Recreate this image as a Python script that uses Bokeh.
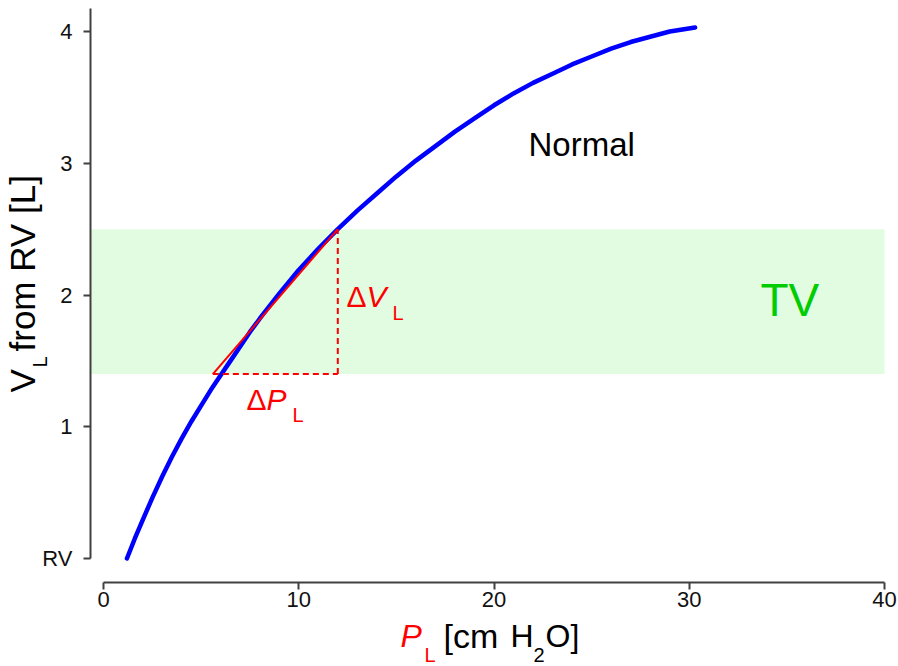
import math
from bokeh.plotting import figure
from bokeh.models import Range1d, FixedTicker, BoxAnnotation, Label
from bokeh.embed import file_html
from bokeh.resources import INLINE

# ---- data ----
pressure = [1.2, 1.6, 2.0, 2.5, 3.0, 3.5, 4.0, 4.5, 5.0, 5.5, 6.0, 6.5, 7.0, 7.5,
            8, 9, 10, 11, 12, 13, 14, 15, 16, 17, 18, 19, 20, 21, 22, 23, 24,
            25, 26, 27, 28, 29, 30.3]
volume = [0.00, 0.15, 0.29, 0.46, 0.62, 0.77, 0.91, 1.04, 1.16, 1.28, 1.39, 1.50,
          1.61, 1.72, 1.82, 2.01, 2.19, 2.35, 2.50, 2.64, 2.77, 2.90, 3.02, 3.13,
          3.24, 3.34, 3.44, 3.53, 3.61, 3.68, 3.75, 3.81, 3.87, 3.92, 3.96, 4.00,
          4.03]

tv_band = [1.4, 2.5]            # tidal-volume band (L above RV)
tangent_p = [5.6, 12.0]         # pressure at the two ends of the tangent
tangent_v = [1.4, 2.5]          # volume at the two ends of the tangent

x_ticks = [0, 10, 20, 30, 40]
y_ticks = [0, 1, 2, 3, 4]
y_tick_labels = {0: "RV", 1: "1", 2: "2", 3: "3", 4: "4"}

FONT = "Liberation Sans"

# pixel scale of the reference
X0, XS = 103, 19.525   # px of P=0, px per cm H2O
Y0, YS = 558, 131.75   # px of V=0 (RV), px per litre
W, H = 898, 666

p = figure(width=W, height=H, output_backend="svg", toolbar_location=None,
           x_range=Range1d(-X0 / XS, (W - X0) / XS),
           y_range=Range1d(-(H - Y0) / YS, Y0 / YS),
           min_border_left=0, min_border_right=0, min_border_top=0,
           min_border_bottom=0)
p.outline_line_color = None
p.xgrid.visible = False
p.ygrid.visible = False
p.background_fill_color = "white"
p.border_fill_color = "white"

for ax in (p.xaxis[0], p.yaxis[0]):
    ax.axis_line_width = 2
    ax.axis_line_color = "#404040"
    ax.major_tick_line_color = "#404040"
    ax.major_tick_line_width = 2
    ax.major_tick_out = 7
    ax.major_tick_in = 0
    ax.minor_tick_line_color = None
    ax.major_label_text_font = FONT
    ax.major_label_text_font_size = "22px"
    ax.major_label_text_color = "#111111"

x_axis_at = -(582 - Y0) / YS
y_axis_at = (90 - X0) / XS
p.xaxis[0].fixed_location = x_axis_at
p.xaxis[0].bounds = (0, 40)
p.xaxis[0].ticker = FixedTicker(ticks=x_ticks)
p.xaxis[0].major_label_standoff = 2
p.yaxis[0].fixed_location = y_axis_at
p.yaxis[0].bounds = (0, (Y0 - 8) / YS)
p.yaxis[0].ticker = FixedTicker(ticks=y_ticks)
p.yaxis[0].major_label_overrides = y_tick_labels
p.yaxis[0].major_label_standoff = 11

# tidal volume band
p.add_layout(BoxAnnotation(bottom=tv_band[0], top=tv_band[1], left=y_axis_at,
                           right=40, fill_color="#e2fce2", fill_alpha=1.0,
                           line_alpha=0, level="underlay"))

# pressure-volume curve
p.line(pressure, volume, line_color="#0000ff", line_width=4.5,
       line_cap="round", line_join="round")

# tangent triangle
p.line(tangent_p, tangent_v, line_color="#ff0000", line_width=2)
p.line([tangent_p[0], tangent_p[1]], [tangent_v[0], tangent_v[0]],
       line_color="#ff0000", line_width=2, line_dash="6 4")
p.line([tangent_p[1], tangent_p[1]], [tangent_v[0], tangent_v[1]],
       line_color="#ff0000", line_width=2, line_dash="6 4")

BASE_SHIFT = 0.38  # measured baseline offset of rendered labels, in em


def lab(px, py, text, size, color="black", style="normal", rotated=False):
    if rotated:
        px = px - BASE_SHIFT * size
    else:
        py = py - BASE_SHIFT * size
    p.add_layout(Label(x=(px - X0) / XS, y=(Y0 - py) / YS, text=text,
                       text_font=FONT, text_font_size=f"{size}px",
                       text_color=color, text_font_style=style,
                       angle=math.pi / 2 if rotated else 0.0,
                       text_align="left", text_baseline="alphabetic"))


# in-plot texts
lab(528, 157, "Normal", 33)
lab(760, 317, "TV", 46, color="#00cc00")
lab(346, 307, "\u0394", 30, color="#ff0000")
lab(366, 307, "V", 30, color="#ff0000", style="italic")
lab(392, 320, "L", 20, color="#ff0000")
lab(246, 410, "\u0394", 30, color="#ff0000")
lab(266, 410, "P", 30, color="#ff0000", style="italic")
lab(292, 422, "L", 20, color="#ff0000")

# x axis title
lab(400, 648, "P", 32, color="#ff0000", style="italic")
lab(424, 662, "L", 20, color="#ff0000")
lab(443, 648, "[cm", 34)
lab(510, 648, "H", 32)
lab(533, 662, "2", 20)
lab(545, 648, "O]", 32)

# y axis title (rotated)
lab(35, 392, "V", 35, rotated=True)
lab(47, 367, "L", 20, rotated=True)
lab(35, 351, " from RV [L]", 35, rotated=True)

open("out.html", "w").write(file_html(p, INLINE))
